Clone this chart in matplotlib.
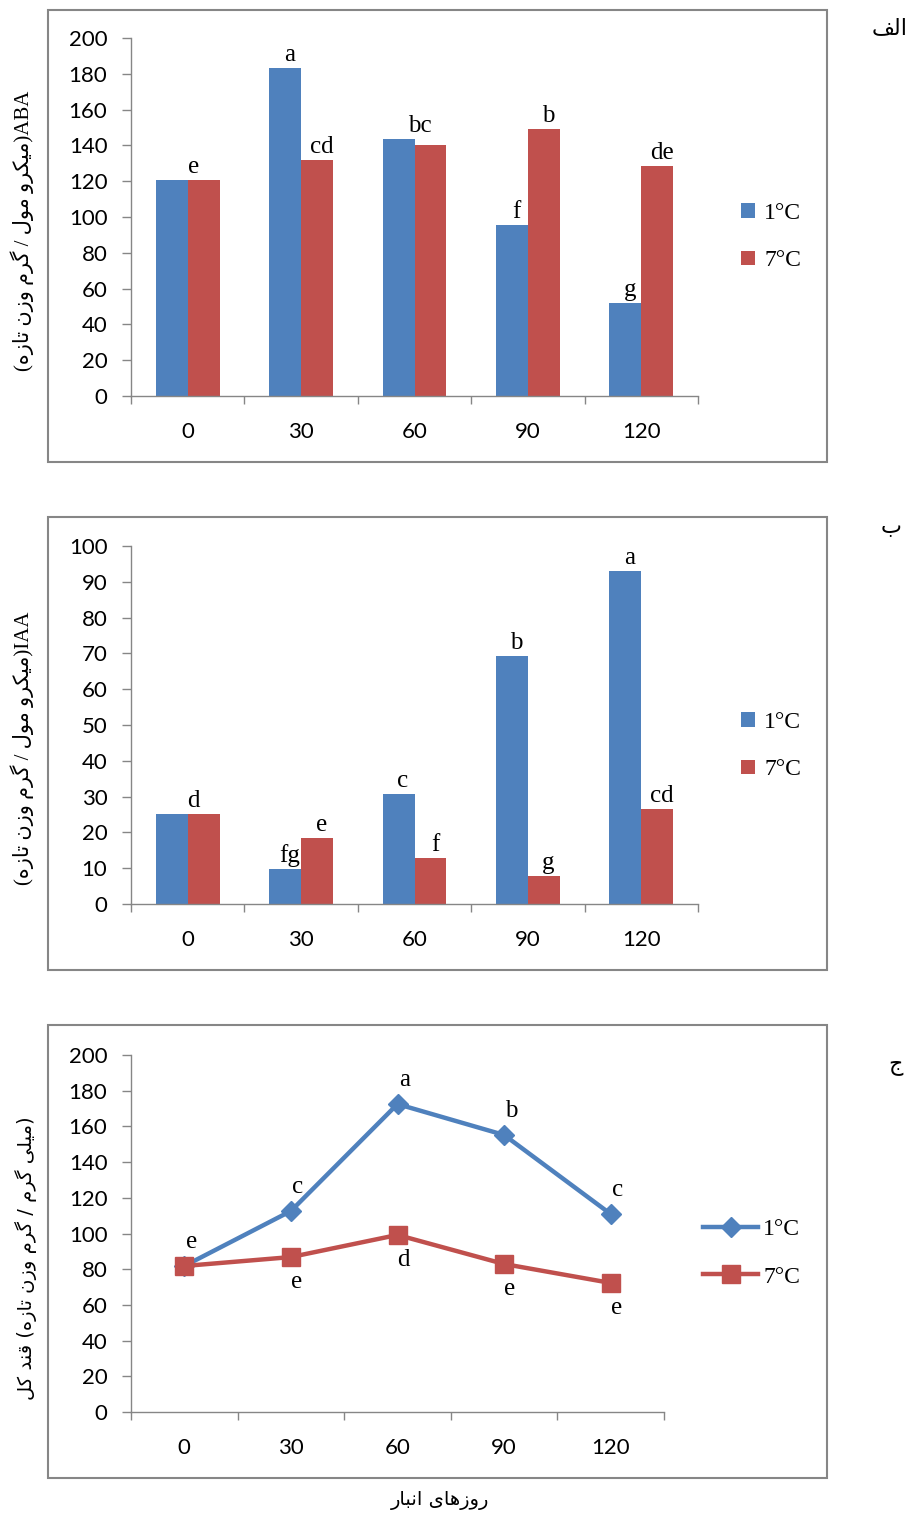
import numpy as np
import matplotlib
matplotlib.use('Agg')
import matplotlib.pyplot as plt
from matplotlib import font_manager, ft2font
from matplotlib.patches import Rectangle

# ---------------------------------------------------------------- data
days = ['0', '30', '60', '90', '120']
series_names = ['1°C', '7°C']

aba_1c = [120.7, 183.2, 143.6, 95.5, 52.0]
aba_7c = [120.7, 131.8, 140.2, 149.2, 128.5]
aba_letters = [[('e', 'both')], [('a', 0), ('cd', 1)], [('bc', 'both')],
               [('f', 0), ('b', 1)], [('g', 0), ('de', 1)]]

iaa_1c = [25.1, 9.8, 30.7, 69.3, 93.0]
iaa_7c = [25.1, 18.4, 12.8, 7.8, 26.5]
iaa_letters = [[('d', 'both')], [('fg', 0), ('e', 1)], [('c', 0), ('f', 1)],
               [('b', 0), ('g', 1)], [('a', 0), ('cd', 1)]]

sugar_1c = [81.8, 112.6, 172.5, 155.2, 110.9]
sugar_7c = [81.8, 86.8, 99.2, 82.9, 72.3]
sugar_letters_1c = ['e', 'c', 'a', 'b', 'c']
sugar_letters_7c = ['', 'e', 'd', 'e', 'e']

# ---------------------------------------------------------------- style
W, H, DPI = 911, 1514, 100
BLUE = '#4F81BD'
RED = '#C0504D'
GRAY = '#868686'
NUM_FONT = 'Lato'
SERIF = 'Liberation Serif'
ARABIC = 'DejaVu Sans'

# ---------------------------------------------------------------- Persian shaping
_cmap = ft2font.FT2Font(font_manager.findfont(ARABIC)).get_charmap()


def _pick(primary, fallback):
    return primary if all(ord(c) in _cmap for c in primary if c) else fallback


# isolated, final, initial, medial (None for right-joining letters)
FORMS = {
    'ا': ('\uFE8D', '\uFE8E', None, None),
    'ب': ('\uFE8F', '\uFE90', '\uFE91', '\uFE92'),
    'ت': ('\uFE95', '\uFE96', '\uFE97', '\uFE98'),
    'ج': ('\uFE9D', '\uFE9E', '\uFE9F', '\uFEA0'),
    'د': ('\uFEA9', '\uFEAA', None, None),
    'ر': ('\uFEAD', '\uFEAE', None, None),
    'ز': ('\uFEAF', '\uFEB0', None, None),
    'ف': ('\uFED1', '\uFED2', '\uFED3', '\uFED4'),
    'ق': ('\uFED5', '\uFED6', '\uFED7', '\uFED8'),
    'ل': ('\uFEDD', '\uFEDE', '\uFEDF', '\uFEE0'),
    'م': ('\uFEE1', '\uFEE2', '\uFEE3', '\uFEE4'),
    'ن': ('\uFEE5', '\uFEE6', '\uFEE7', '\uFEE8'),
    'ه': ('\uFEE9', '\uFEEA', '\uFEEB', '\uFEEC'),
    'و': ('\uFEED', '\uFEEE', None, None),
    'ی': _pick(('\uFBFC', '\uFBFD', '\uFBFE', '\uFBFF'),
               ('\uFEEF', '\uFEF0', '\uFEF3', '\uFEF4')),
    'ک': _pick(('\uFB8E', '\uFB8F', '\uFB90', '\uFB91'),
               ('\uFED9', '\uFEDA', '\uFEDB', '\uFEDC')),
    'گ': _pick(('\uFB92', '\uFB93', '\uFB94', '\uFB95'),
               ('\uFED9', '\uFEDA', '\uFEDB', '\uFEDC')),
}


def rtl(text):
    """Shape Persian letters and return them in visual (left-to-right) order."""
    out = []
    for i, c in enumerate(text):
        if c not in FORMS:
            out.append(c)
            continue
        prev = text[i - 1] if i > 0 else None
        nxt = text[i + 1] if i + 1 < len(text) else None
        join_prev = prev in FORMS and FORMS[prev][2] is not None
        join_next = nxt in FORMS and FORMS[c][2] is not None
        iso, fin, ini, med = FORMS[c]
        if join_prev and join_next:
            g = med
        elif join_prev:
            g = fin
        elif join_next:
            g = ini
        else:
            g = iso
        out.append(g)
    return ''.join(reversed(out))


unit_micro = rtl('میکرو مول / گرم وزن تازه')
ylabel_aba = '(' + unit_micro + ')ABA'
ylabel_iaa = '(' + unit_micro + ')IAA'
ylabel_sugar = rtl('قند کل') + ' (' + rtl('میلی گرم / گرم وزن تازه') + ')'
xlabel_days = rtl('روزهای انبار')
panel_tags = [rtl('الف'), rtl('ب'), rtl('ج')]

# ---------------------------------------------------------------- figure
fig = plt.figure(figsize=(W / DPI, H / DPI), dpi=DPI)


def px_axes(x0, x1, y_top, y_bot):
    return fig.add_axes([x0 / W, 1 - y_bot / H, (x1 - x0) / W, (y_bot - y_top) / H])


def fx(x):
    return x / W


def fy(y):
    return 1 - y / H


def frame(x0, y0, x1, y1):
    fig.patches.append(Rectangle((fx(x0), fy(y1)), fx(x1) - fx(x0), fy(y0) - fy(y1),
                                 transform=fig.transFigure, fill=False,
                                 edgecolor=GRAY, linewidth=1.5))


def style_axes(ax, ymax, ystep):
    ax.set_xlim(-0.5, 4.5)
    ax.set_ylim(0, ymax)
    ax.set_yticks(np.arange(0, ymax + 0.1, ystep))
    ax.set_xticks(range(len(days)))
    ax.set_xticklabels(days)
    ax.set_xticks(np.arange(-0.5, len(days), 1.0), minor=True)
    for s in ('top', 'right'):
        ax.spines[s].set_visible(False)
    for s in ('left', 'bottom'):
        ax.spines[s].set_color(GRAY)
        ax.spines[s].set_linewidth(1.0)
    ax.tick_params(axis='x', which='major', length=0, pad=18.5)
    ax.tick_params(axis='x', which='minor', length=6, width=1.0, color=GRAY)
    ax.tick_params(axis='y', length=6.5, width=1.0, color=GRAY, pad=10.5)
    for lab in ax.get_xticklabels() + ax.get_yticklabels():
        lab.set_fontfamily(NUM_FONT)
        lab.set_fontsize(16)
    ax.patch.set_alpha(0)


def bar_panel(ax, v1, v7, letters, ymax, ystep, legend_y):
    x = np.arange(len(days))
    w = 0.282
    ax.bar(x - w / 2, v1, w, color=BLUE, label=series_names[0])
    ax.bar(x + w / 2, v7, w, color=RED, label=series_names[1])
    style_axes(ax, ymax, ystep)
    for i, marks in enumerate(letters):
        for txt, which in marks:
            if which == 'both':
                xx, yy = x[i] + 0.05, max(v1[i], v7[i])
            else:
                xx = x[i] + (w / 2 if which == 1 else -w / 2) + 0.04
                yy = (v1, v7)[which][i]
            ax.annotate(txt, (xx, yy), xytext=(0, 1.5), textcoords='offset points',
                        ha='center', va='bottom', fontfamily=SERIF, fontsize=18)
    ax.legend(loc='center left', bbox_to_anchor=(fx(741), fy(legend_y)),
              bbox_transform=fig.transFigure, frameon=False,
              prop={'family': SERIF, 'size': 17}, handlelength=0.58,
              handleheight=0.58, handletextpad=0.4, labelspacing=1.12,
              borderpad=0, borderaxespad=0)


# ---- panel A: ABA
frame(48, 10, 827, 462)
axA = px_axes(131, 698, 38, 396)
bar_panel(axA, aba_1c, aba_7c, aba_letters, 200, 20, 237)

# ---- panel B: IAA
frame(48, 517, 827, 970)
axB = px_axes(131, 698, 546, 904)
bar_panel(axB, iaa_1c, iaa_7c, iaa_letters, 100, 10, 746)

# ---- panel C: total sugar
frame(48, 1025, 827, 1478)
axC = px_axes(131, 664, 1055, 1412)
x = np.arange(len(days))
axC.plot(x, sugar_1c, color=BLUE, lw=3.2, marker='D', markersize=10.5,
         label=series_names[0], solid_joinstyle='round')
axC.plot(x, sugar_7c, color=RED, lw=3.2, marker='s', markersize=13,
         label=series_names[1], solid_joinstyle='round')
style_axes(axC, 200, 20)
for i in range(len(days)):
    if sugar_letters_1c[i]:
        axC.annotate(sugar_letters_1c[i], (x[i], sugar_1c[i]), xytext=(5, 17),
                     textcoords='offset points', ha='center', va='center',
                     fontfamily=SERIF, fontsize=18)
    if sugar_letters_7c[i]:
        axC.annotate(sugar_letters_7c[i], (x[i], sugar_7c[i]), xytext=(4, -18),
                     textcoords='offset points', ha='center', va='center',
                     fontfamily=SERIF, fontsize=18)
axC.legend(loc='center left', bbox_to_anchor=(fx(703), fy(1253)),
           bbox_transform=fig.transFigure, frameon=False,
           prop={'family': SERIF, 'size': 17}, handlelength=2.35,
           handletextpad=0.2, labelspacing=1.12, borderpad=0, borderaxespad=0)

# ---- axis titles and panel tags
lab_kw = dict(rotation=90, ha='center', va='center', fontsize=15,
              family=[SERIF, ARABIC])
fig.text(fx(22), fy(231), ylabel_aba, **lab_kw)
fig.text(fx(22), fy(748), ylabel_iaa, **lab_kw)
fig.text(fx(26), fy(1258), ylabel_sugar, rotation=90, ha='center', va='center',
         fontsize=14, family=ARABIC)
fig.text(fx(440), fy(1500), xlabel_days, ha='center', va='center',
         fontsize=14, family=ARABIC)
for tag, (tx, ty) in zip(panel_tags, [(890, 28), (891, 527), (896, 1065)]):
    fig.text(fx(tx), fy(ty), tag, ha='center', va='center', fontsize=16,
             family=ARABIC)

fig.savefig('out.png', dpi=DPI)
